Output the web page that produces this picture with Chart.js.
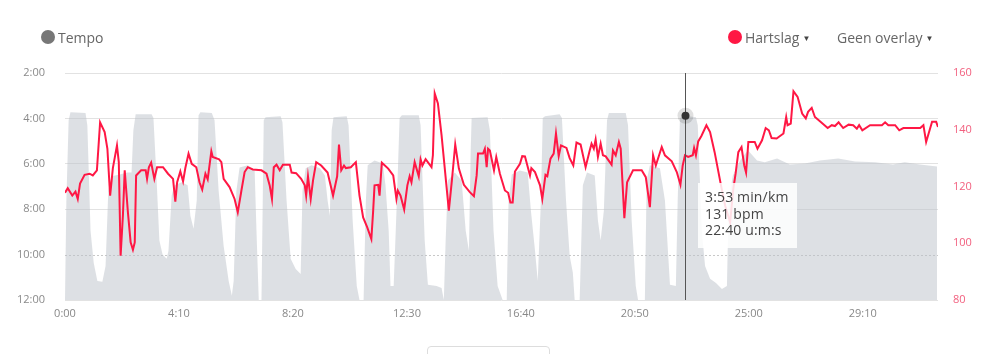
<!DOCTYPE html>
<html>
<head>
<meta charset="utf-8">
<script src="https://cdn.jsdelivr.net/npm/chart.js@4.4.0/dist/chart.umd.min.js"></script>
<style>
  html, body { margin: 0; padding: 0; background: #fff; }
  body { width: 1000px; height: 354px; position: relative; overflow: hidden; font-family: "Open Sans", sans-serif; }
  #grafico { position: absolute; left: 0; top: 0; }
  .legenda { position: absolute; top: 27px; font-size: 14px; color: #666; display: flex; align-items: center; height: 20px; }
  .bolinha { width: 14px; height: 14px; border-radius: 50%; display: inline-block; margin-right: 3px; }
  .seta { font-size: 8px; margin-left: 3px; color: #444; }
  #tooltip { position: absolute; left: 698px; top: 183px; width: 99px; height: 65px; background: rgba(255,255,255,0.86);
             font-size: 14px; line-height: 16.5px; color: #444; padding: 6px 0 0 7px; box-sizing: border-box; white-space: nowrap; letter-spacing: 0.15px; }
  #botao { position: absolute; left: 427px; top: 346px; width: 121px; height: 30px; border: 1px solid #ddd; border-radius: 4px; }
</style>
</head>
<body>
<canvas id="grafico" width="1000" height="354"></canvas>

<div class="legenda" style="left:41px;"><span class="bolinha" style="background:#777;"></span>Tempo</div>
<div class="legenda" style="left:728px;"><span class="bolinha" style="background:#ff1744;"></span>Hartslag<span class="seta">&#9660;</span></div>
<div class="legenda" style="left:837px;">Geen overlay<span class="seta">&#9660;</span></div>
<div id="tooltip">3:53 min/km<br>131 bpm<br>22:40 u:m:s</div>
<div id="botao"></div>

<script>
// ======================
// Dados (tempo em segundos)
// ======================

// Tempo (pace, s/km) - área cinza
const paceTimes = [0,3,8,12,45,49,56,63,71,82,89,95,102,120,137,146,150,155,190,194,201,207,214,223,227,234,240,256,269,275,282,289,293,297,322,328,337,348,359,366,370,376,383,401,416,420,425,431,436,440,473,477,486,495,506,517,521,528,541,559,570,576,581,585,589,618,622,631,640,646,655,660,664,679,697,703,710,714,721,728,734,739,776,780,789,796,815,826,831,835,840,855,870,879,886,890,892,927,932,940,949,960,969,973,980,998,1015,1022,1031,1037,1044,1048,1053,1085,1090,1099,1107,1114,1118,1129,1136,1145,1162,1169,1175,1182,1189,1193,1230,1235,1243,1252,1257,1272,1276,1283,1305,1316,1327,1340,1344,1349,1353,1360,1384,1388,1397,1404,1415,1428,1441,1452,1456,1465,1481,1498,1518,1535,1562,1590,1623,1656,1696,1733,1777,1816,1842,1875,1913];
const paceValues = [720,457,245,224,226,258,537,622,670,672,630,431,393,388,383,383,271,229,229,239,404,563,600,611,590,444,417,409,417,497,532,457,232,224,226,245,431,577,670,709,670,431,370,364,378,537,720,720,245,237,234,250,457,611,638,651,431,372,364,372,391,457,497,271,237,234,258,510,683,720,720,457,364,351,359,417,537,683,683,457,239,232,232,258,563,680,683,688,720,563,404,383,404,537,590,324,239,237,271,537,683,720,720,457,388,378,383,484,590,670,457,239,234,229,239,457,603,648,720,720,417,383,391,510,563,484,245,226,226,258,510,683,720,720,404,364,372,457,680,683,457,239,237,233,237,258,537,630,664,675,691,683,457,391,351,324,351,356,346,362,359,351,346,354,356,362,356,362,367];

// Hartslag (bpm) - linha vermelha
const hrTimes = [0,6,16,23,28,33,43,54,61,70,77,87,93,99,105,114,118,122,127,131,138,144,149,153,156,167,177,180,184,189,196,202,215,226,237,242,246,253,259,264,271,278,288,295,301,308,313,321,324,338,343,348,361,372,379,387,394,401,412,431,442,449,454,458,464,471,478,493,497,507,518,526,529,533,539,544,551,562,576,588,597,601,606,612,616,627,638,646,654,663,672,676,679,687,690,695,709,720,727,730,736,744,751,756,760,767,776,780,784,791,804,807,811,818,826,842,849,856,864,875,888,897,903,906,917,921,925,928,932,941,946,954,965,972,977,982,987,998,1003,1009,1020,1023,1031,1042,1047,1054,1058,1065,1072,1077,1083,1088,1100,1107,1115,1122,1131,1142,1151,1155,1160,1164,1169,1175,1180,1186,1199,1202,1208,1215,1219,1224,1227,1233,1246,1265,1274,1283,1290,1296,1309,1316,1331,1342,1350,1355,1360,1367,1377,1380,1384,1389,1396,1407,1415,1425,1439,1448,1459,1466,1471,1477,1484,1490,1494,1499,1513,1519,1529,1537,1544,1550,1561,1576,1582,1585,1592,1598,1607,1617,1625,1630,1638,1645,1656,1673,1682,1689,1697,1707,1719,1729,1737,1742,1749,1766,1792,1799,1806,1821,1830,1839,1876,1883,1889,1902,1911,1915];
const hrValues = [117.8,119.4,116.8,118.2,115.6,121,124.1,124.5,123.9,125.7,142.6,139.2,133.3,116.8,126.5,134.5,128.6,95.6,109.7,125.7,110.9,100.3,97.7,100.3,123.9,125.7,125.7,122.7,126.8,128.4,122.7,126.8,126.8,124.5,122.7,114.7,121.5,125.3,121.8,126.5,131.6,128,126.8,121.5,118.9,124.5,122.5,132.4,130.4,129.6,128.6,122.7,119.8,115.6,110.9,118.6,125.1,126.8,126,125.7,124.5,120.4,115.6,126.8,127.7,125.7,127.7,127.7,124.9,124.7,122.7,120.4,116.8,123.6,115.6,122.1,128.6,127.4,124.9,116.8,123.6,134.8,125.7,127.4,126.5,126.8,128.6,116.8,109.1,105.6,101.5,111.5,120.4,120.6,116.8,128.4,126.3,123.9,115.6,118.6,116.8,111.9,120.4,123.6,121.5,128.6,123.6,129.6,127.4,129.6,126.8,131,152.8,149.3,138.1,111.5,122.7,134.8,126.3,120.6,118,116.6,123.9,131.6,131.6,133.3,126.8,133.3,132.7,125.7,130.4,124.5,118.6,117.8,114.4,114.4,125.3,128,130.7,130.6,123.9,126.5,125.1,120.4,115.6,124.1,123.6,129.8,131.6,138.7,130.7,134.5,133.6,130,127.4,135.5,134.8,126.8,132.7,135.1,133.3,136.6,130.4,135.1,131,130.6,127.7,132.7,131,135.7,133.3,118,108.8,121.5,125.7,125.7,123.3,112.7,131,127.4,133.9,131,128.9,125.1,120.6,127.4,131,130.4,131,133.6,131,135.9,137.8,141.6,139.2,132.1,120.4,113.3,107.4,119.2,124.5,132.1,133.9,127.4,124.9,135.7,135.7,133.3,136.3,140.6,139.8,137.1,136.9,138.7,144.5,141.6,142.2,153.6,151.6,145.7,144,146.3,147.7,144.5,143,140.6,141.6,141.3,142.6,140.6,141.8,141.6,140.4,141.6,139.8,141.6,141.6,142.6,141.6,141.6,139.8,140.6,140.6,141.6,135.7,142.8,142.8,141];

// Ticks dos eixos
const timeTicks = [0, 250, 500, 750, 1000, 1250, 1500, 1750];
const paceTicks = [120, 240, 360, 480, 600, 720];
const hrTicks = [80, 100, 120, 140, 160];
const tempoMax = 1915;

// Ponto ativo (cursor)
const cursorTempo = 1360;
const cursorPace = 233;

// ======================
// Funções auxiliares
// ======================

function formatarMinSeg(s) {
  const m = Math.floor(s / 60);
  const r = Math.round(s % 60);
  return m + ":" + String(r).padStart(2, "0");
}

function pares(xs, ys) {
  return xs.map((x, i) => ({ x: x, y: ys[i] }));
}

// linha pontilhada em 10:00 + cursor vertical
const pluginExtras = {
  id: "extras",
  beforeDatasetsDraw(chart) {
    const { ctx, chartArea } = chart;
    const y = Math.round(chart.scales.yPace.getPixelForValue(600)) + 0.5;
    ctx.save();
    ctx.strokeStyle = "#c8c8c8";
    ctx.lineWidth = 1;
    ctx.setLineDash([2, 2]);
    ctx.beginPath();
    ctx.moveTo(chartArea.left, y);
    ctx.lineTo(chartArea.right, y);
    ctx.stroke();
    ctx.restore();
  },
  afterDatasetsDraw(chart) {
    const { ctx, chartArea } = chart;
    const x = Math.round(chart.scales.x.getPixelForValue(cursorTempo)) + 0.5;
    const y = chart.scales.yPace.getPixelForValue(cursorPace);
    ctx.save();
    ctx.strokeStyle = "#555";
    ctx.lineWidth = 1;
    ctx.beginPath();
    ctx.moveTo(x, chartArea.top);
    ctx.lineTo(x, chartArea.bottom);
    ctx.stroke();
    ctx.fillStyle = "rgba(0,0,0,0.12)";
    ctx.beginPath();
    ctx.arc(x, y, 8, 0, Math.PI * 2);
    ctx.fill();
    ctx.fillStyle = "#333";
    ctx.beginPath();
    ctx.arc(x, y, 4, 0, Math.PI * 2);
    ctx.fill();
    ctx.restore();
  }
};

// ======================
// Gráfico
// ======================

Chart.defaults.font.family = "'Open Sans', sans-serif";

const ctx = document.getElementById("grafico").getContext("2d");
new Chart(ctx, {
  type: "line",
  data: {
    datasets: [
      {
        label: "Hartslag",
        data: pares(hrTimes, hrValues),
        yAxisID: "yHr",
        borderColor: "#ff1744",
        borderWidth: 2,
        pointRadius: 0,
        tension: 0,
        fill: false,
        order: 0
      },
      {
        label: "Tempo",
        data: pares(paceTimes, paceValues),
        yAxisID: "yPace",
        borderWidth: 0,
        borderColor: "rgba(0,0,0,0)",
        backgroundColor: "rgba(188,194,201,0.5)",
        pointRadius: 0,
        tension: 0,
        fill: { value: 720 },
        order: 1
      }
    ]
  },
  options: {
    responsive: false,
    animation: false,
    devicePixelRatio: 1,
    layout: { padding: { top: 73, left: 0, right: 0, bottom: 24 } },
    plugins: { legend: { display: false }, tooltip: { enabled: false } },
    scales: {
      x: {
        type: "linear",
        min: 0,
        max: tempoMax,
        afterBuildTicks: (s) => { s.ticks = timeTicks.map(v => ({ value: v })); },
        afterFit: (s) => { s.height = 30; },
        ticks: { callback: (v) => formatarMinSeg(v), color: "#888", font: { size: 11 }, padding: 7, maxRotation: 0, autoSkip: false },
        grid: { display: false, drawTicks: false },
        border: { display: false }
      },
      yPace: {
        position: "left",
        reverse: true,
        min: 120,
        max: 720,
        afterBuildTicks: (s) => { s.ticks = paceTicks.map(v => ({ value: v })); },
        afterFit: (s) => { s.width = 65; },
        ticks: { callback: (v) => formatarMinSeg(v), color: "#8a8a8a", font: { size: 11 }, padding: 20 },
        grid: { color: (c) => (c.tick && c.tick.value === 600 ? "rgba(0,0,0,0)" : "#e2e2e2"), drawTicks: false },
        border: { display: false }
      },
      yHr: {
        position: "right",
        min: 80,
        max: 160,
        afterBuildTicks: (s) => { s.ticks = hrTicks.map(v => ({ value: v })); },
        afterFit: (s) => { s.width = 62; },
        ticks: { color: "#f2607f", font: { size: 11 }, padding: 15 },
        grid: { display: false, drawTicks: false },
        border: { display: false }
      }
    }
  },
  plugins: [pluginExtras]
});
</script>
</body>
</html>
